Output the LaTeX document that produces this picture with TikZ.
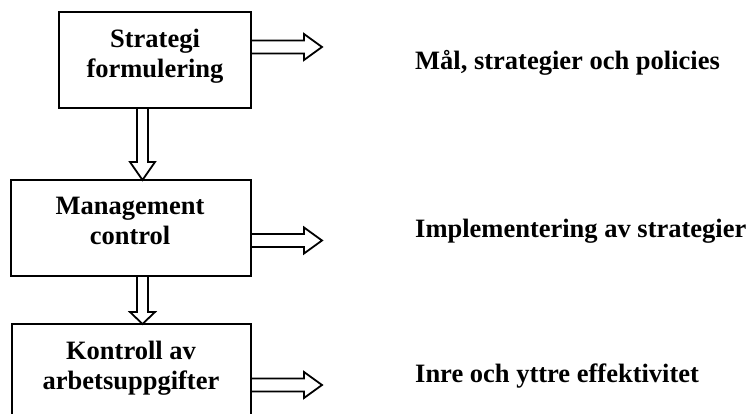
\documentclass[tikz,border=0pt]{standalone}
\usepackage{fontspec}
\setmainfont{Liberation Serif}
\usetikzlibrary{calc}
\newcommand{\hblock}[2]{%
  \draw[blk] ($(#1)+(0,-6.5)$) -- ($(#2)+(-18,-6.5)$) -- ($(#2)+(-18,-13)$) -- (#2)
    -- ($(#2)+(-18,13)$) -- ($(#2)+(-18,6.5)$) -- ($(#1)+(0,6.5)$);}
\newcommand{\vblock}[3]{%
  \draw[blk] ($(#1)+(-5.5,0)$) -- ($(#2)+(-5.5,-#3)$) -- ($(#2)+(-12.5,-#3)$) -- (#2)
    -- ($(#2)+(12.5,-#3)$) -- ($(#2)+(5.5,-#3)$) -- ($(#1)+(5.5,0)$);}
\begin{document}
\begin{tikzpicture}[x=1pt,y=-1pt,
  box/.style={draw, line width=2pt, inner sep=0pt, minimum height=96pt},
  blk/.style={draw, line width=1.8pt, line join=miter},
  boxtext/.style={anchor=base, inner sep=0pt, font=\fontsize{26.5}{30}\selectfont\bfseries},
  lbl/.style={anchor=base west, inner sep=0pt, font=\fontsize{26.5}{30}\selectfont\bfseries}]
\useasboundingbox (0,0) rectangle (748,414);
\clip (0,0) rectangle (748,414);
% boxes
\node[box, minimum width=192pt] (b1) at (155,60) {};
\node[box, minimum width=240pt] (b2) at (131,228) {};
\node[box, minimum width=239pt] (b3) at (131.5,372) {};
% box texts
\node[boxtext] (t1) at (155,48) {\setlength{\tabcolsep}{0pt}\begin{tabular}[t]{c}Strategi\\formulering\end{tabular}};
\node[boxtext] (t2) at (130,215) {\setlength{\tabcolsep}{0pt}\begin{tabular}[t]{c}Management\\control\end{tabular}};
\node[boxtext] (t3) at (131,360) {\setlength{\tabcolsep}{0pt}\begin{tabular}[t]{c}Kontroll av\\arbetsuppgifter\end{tabular}};
% labels
\node[lbl] (l1) at (415,70) {Mål, strategier och policies};
\node[lbl] (l2) at (415,238) {Implementering av strategier};
\node[lbl] (l3) at (415,383) {Inre och yttre effektivitet};
% arrow end points
\coordinate (a1s) at (b1.east |- 0,47);
\coordinate (a1e) at (322,47);
\coordinate (a2s) at (b2.east |- 0,240.5);
\coordinate (a2e) at (322,240.5);
\coordinate (a3s) at (b3.east |- 0,385);
\coordinate (a3e) at (322,385);
\coordinate (d1s) at (142.5,108);
\coordinate (d1e) at (142.5,180);
\coordinate (d2s) at (142.5,276);
\coordinate (d2e) at (142.5,324);
\hblock{a1s}{a1e}
\hblock{a2s}{a2e}
\hblock{a3s}{a3e}
\vblock{d1s}{d1e}{18}
\vblock{d2s}{d2e}{12}
\end{tikzpicture}
\end{document}
